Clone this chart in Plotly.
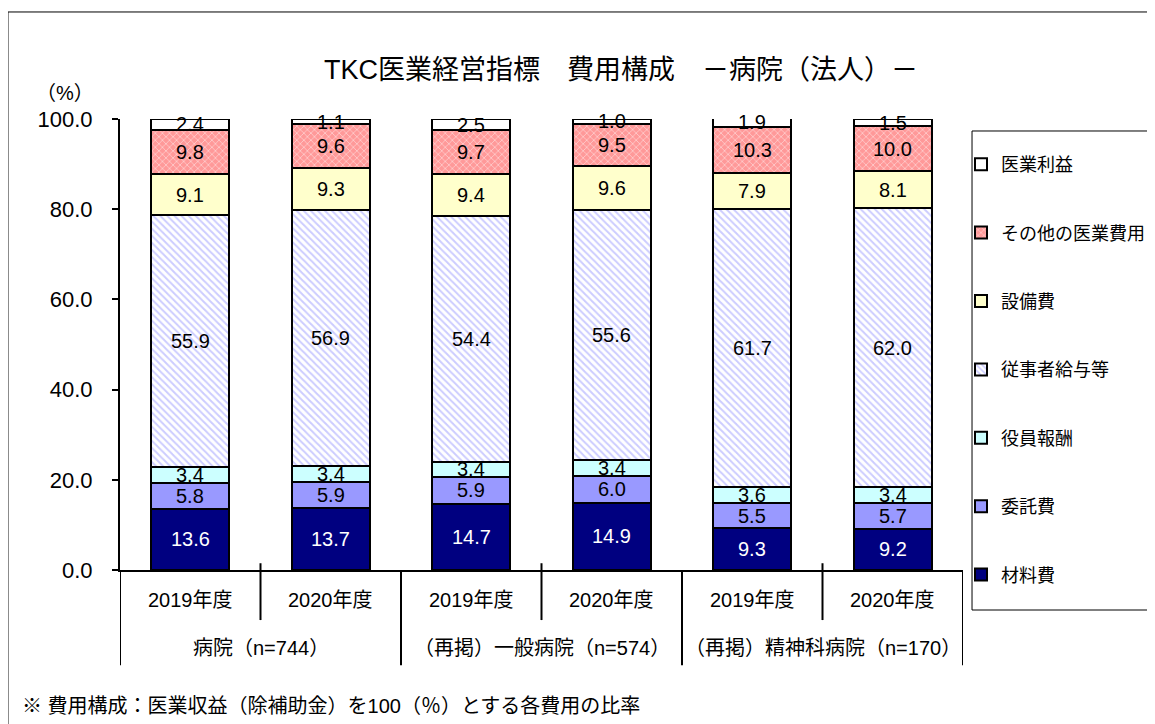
import plotly.graph_objects as go

# data (bottom -> top of each stacked bar)
years = ["2019年度", "2020年度", "2019年度", "2020年度", "2019年度", "2020年度"]
groups = ["病院（n=744）", "（再掲）一般病院（n=574）", "（再掲）精神科病院（n=170）"]
series_names = ["材料費", "委託費", "役員報酬", "従事者給与等", "設備費", "その他の医業費用", "医業利益"]
zairyo = [13.6, 13.7, 14.7, 14.9, 9.3, 9.2]
itaku = [5.8, 5.9, 5.9, 6.0, 5.5, 5.7]
yakuin = [3.4, 3.4, 3.4, 3.4, 3.6, 3.4]
jujisha = [55.9, 56.9, 54.4, 55.6, 61.7, 62.0]
setsubi = [9.1, 9.3, 9.4, 9.6, 7.9, 8.1]
sonota = [9.8, 9.6, 9.7, 9.5, 10.3, 10.0]
rieki = [2.4, 1.1, 2.5, 1.0, 1.9, 1.5]
y_ticks = [0, 20, 40, 60, 80, 100]

values = [zairyo, itaku, yakuin, jujisha, setsubi, sonota, rieki]

FONT = "Liberation Sans, Noto Sans CJK JP"
x = list(range(len(years)))

# page body has an 8px margin, so the figure is 8px smaller than the window
W, H = 1147, 716

styles = {
    "材料費": dict(color="#000080"),
    "委託費": dict(color="#9999FF"),
    "役員報酬": dict(color="#CCFFFF"),
    "従事者給与等": dict(color="white", pattern=dict(shape="\\", fgcolor="#9999FF", bgcolor="white", size=5, solidity=0.4)),
    "設備費": dict(color="#FFFFCC"),
    "その他の医業費用": dict(color="#FF9999", pattern=dict(shape="x", fgcolor="white", bgcolor="#FF9999", size=5, solidity=0.3)),
    "医業利益": dict(color="white"),
}

fig = go.Figure()
for i, (name, vals) in enumerate(zip(series_names, values)):
    fig.add_trace(go.Bar(
        x=x, y=vals, name=name, width=0.555,
        marker=dict(line=dict(color="black", width=2), **styles[name]),
        legendgroup=name, legendrank=len(series_names) - i,
    ))

# value labels
annotations = []
base = [0.0] * len(x)
for name, vals in zip(series_names, values):
    for i, v in enumerate(vals):
        annotations.append(dict(
            x=i, y=base[i] + v / 2, xref="x", yref="y", text=f"{v:.1f}",
            xanchor="center", yanchor="middle",
            showarrow=False, font=dict(size=20, color="white" if name == "材料費" else "black", family=FONT),
        ))
        base[i] += v

# category labels
for i, yr in enumerate(years):
    annotations.append(dict(x=i, y=-0.066, xref="x", yref="paper", text=yr, showarrow=False,
                            xanchor="center", yanchor="middle",
                            font=dict(size=20, color="black", family=FONT)))
for g, name in enumerate(groups):
    annotations.append(dict(x=2 * g + 0.5, y=-0.173, xref="x", yref="paper", text=name, showarrow=False,
                            xanchor="center", yanchor="middle",
                            font=dict(size=20, color="black", family=FONT)))

annotations.append(dict(x=0.5943, y=1.109, xref="paper", yref="paper", text="TKC医業経営指標　費用構成　－病院（法人）－",
                        xanchor="center", yanchor="middle",
                        showarrow=False, font=dict(size=27, color="black", family=FONT)))
annotations.append(dict(x=-0.0655, y=1.057, xref="paper", yref="paper", text="（%）", showarrow=False,
                        xanchor="center", yanchor="middle",
                        font=dict(size=20, color="black", family=FONT)))
annotations.append(dict(x=-0.1186, y=-0.3016, xref="paper", yref="paper", text="※ 費用構成：医業収益（除補助金）を100（％）とする各費用の比率",
                        showarrow=False, xanchor="left", yanchor="middle",
                        font=dict(size=20, color="black", family=FONT)))

shapes = []
for b in [0.5, 2.5, 4.5]:
    shapes.append(dict(type="line", xref="x", yref="paper", x0=b, x1=b, y0=0.015, y1=-0.111,
                       line=dict(color="black", width=2)))
for b in [-0.5, 1.5, 3.5, 5.5]:
    shapes.append(dict(type="line", xref="x", yref="paper", x0=b, x1=b, y0=0, y1=-0.211,
                       line=dict(color="black", width=2)))
# outer chart frame
shapes.append(dict(type="rect", xref="paper", yref="paper", x0=-0.1329, x1=1.3, y0=1.2373, y1=-0.5,
                   line=dict(color="black", width=1), layer="below"))
# legend frame
shapes.append(dict(type="rect", xref="paper", yref="paper", x0=1.0107, x1=1.25, y0=0.9734, y1=-0.0887,
                   line=dict(color="black", width=1), layer="below"))

fig.update_layout(
    width=W, height=H,
    margin=dict(l=112, r=192, t=111, b=154, autoexpand=False),
    barmode="stack",
    plot_bgcolor="white", paper_bgcolor="white",
    font=dict(family=FONT, size=20, color="black"),
    xaxis=dict(range=[-0.5, 5.5], showticklabels=False, showgrid=False, zeroline=False,
               showline=True, linecolor="black", linewidth=2, ticks="", automargin=False),
    yaxis=dict(range=[0, 100], tickvals=y_ticks, tickformat=".1f", showgrid=False, zeroline=False,
               showline=True, linecolor="black", linewidth=2, ticks="outside", ticklen=6,
               tickcolor="black", tickwidth=2, tickfont=dict(size=22), ticklabelstandoff=15,
               automargin=False),
    legend=dict(xref="container", yref="container", x=953 / W, y=1 - 138 / H,
                xanchor="left", yanchor="top", traceorder="grouped", maxheight=600,
                tracegroupgap=42, borderwidth=0, bgcolor="rgba(0,0,0,0)",
                font=dict(size=18), itemclick=False),
    annotations=annotations,
    shapes=shapes,
    showlegend=True,
)

fig.write_html("out.html")
